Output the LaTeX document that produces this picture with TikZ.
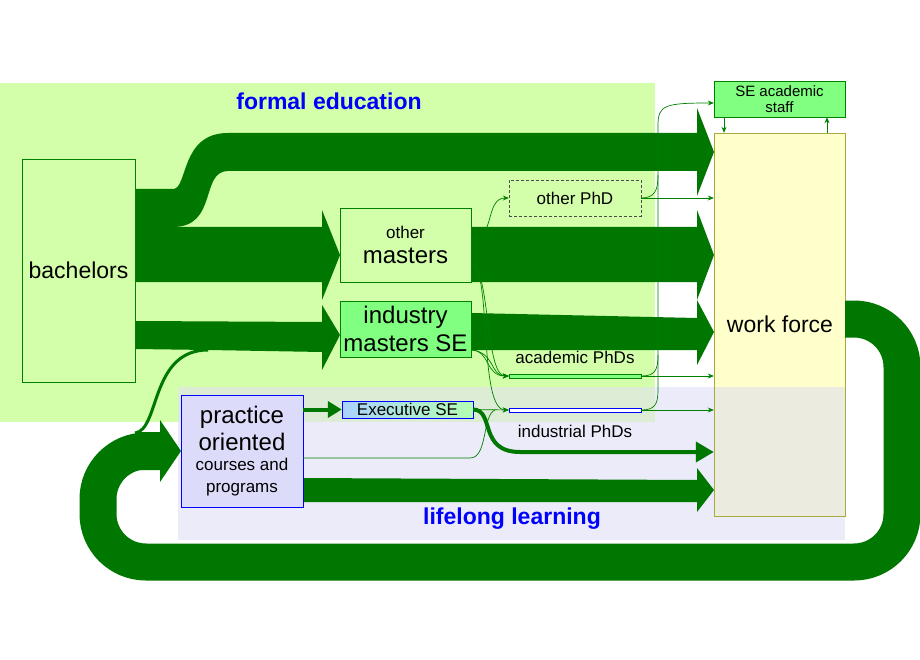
\documentclass[tikz,border=0pt]{standalone}
\usepackage{fontspec}
\setmainfont{Liberation Sans}
\usetikzlibrary{arrows.meta}
\definecolor{flow}{RGB}{0,119,0}
\definecolor{edge}{RGB}{0,128,0}
\definecolor{formal}{RGB}{212,255,170}
\definecolor{lifelong}{RGB}{235,235,250}
\definecolor{overlap}{RGB}{221,236,212}
\definecolor{wfyellow}{RGB}{255,255,204}
\definecolor{wfgrey}{RGB}{235,235,224}
\definecolor{bright}{RGB}{128,255,128}
\definecolor{practice}{RGB}{220,220,250}
\definecolor{execblue}{RGB}{170,210,255}
\newcommand{\fs}[1]{\fontsize{#1}{#1}\selectfont}
\begin{document}
\begin{tikzpicture}[x=1pt,y=-1pt]

\tikzset{box/.style = {draw=edge,fill=formal,inner sep=0pt,align=center}}
\tikzset{flow/.style = {fill=flow}}
\tikzset{thin/.style = {draw=edge,line width=0.7,-{Stealth[length=6,width=5]}}}
\useasboundingbox (0,0) rectangle (920,660);
%regions
\fill[formal] (0,83) rectangle (655,422);
\fill[lifelong] (178,387) rectangle (845,540);
\fill[overlap] (178,387) rectangle (655,422);
\node[text=blue,font=\fs{23}\bfseries] (formaltitle) at (329,101) {formal education};
\node[text=blue,font=\fs{23}\bfseries] (lifetitle) at (512,519) {lifelong learning};
%work force
\fill[wfyellow] (714,133) rectangle (845,387);
\fill[wfgrey] (714,387) rectangle (845,516);
\node[draw={rgb,255:red,170;green,170;blue,60},minimum width=131,minimum height=383,inner sep=0pt] (work) at (779.5,324.5) {};
\node[font=\fs{23}] (worktext) at (780,324) {work force};
%big flows
\fill[flow] (135,189) -- (173,189) .. controls (188,189) and (180,133) .. (228,133)
  -- (697,133) -- (697,108) -- (714,152) -- (697,196) -- (697,171) -- (228,171)
  .. controls (200,171) and (218,227) .. (173,227) -- (135,227) -- cycle;
\fill[flow] (135,227) -- (322,227) -- (322,210) -- (340,255) -- (322,300) -- (322,282) -- (135,282) -- cycle;
\fill[flow] (471,227) -- (697,227) -- (697,210) -- (714,255) -- (697,300) -- (697,282) -- (471,282) -- cycle;
\fill[flow] (135,321) -- (322,322) -- (322,305) -- (340,335) -- (322,370) -- (322,352) -- (208,350) -- (135,349) -- cycle;
\fill[flow] (471,313) -- (697,318) -- (697,300) -- (714,332) -- (697,365) -- (697,350) -- (471,350) -- cycle;
\fill[flow] (303,478) -- (697,480) -- (697,468) -- (714,490) -- (697,512) -- (697,502) -- (303,502) -- cycle;
\draw[draw=flow,line width=37,rounded corners=48] (845,319) -- (902,319) -- (902,562) -- (98,562) -- (98,451) -- (140,451);
\fill[flow] (135,432) -- (160,432) -- (160,420) -- (181,451) -- (160,482) -- (160,470) -- (135,470) -- cycle;
\draw[draw=flow,line width=3] (208,350) .. controls (150,350) and (160,430) .. (135,433);
%nodes
\node[box,minimum width=113,minimum height=223,font=\fs{23}] (bachelors) at (78.5,270.5) {bachelors};
\node[box,fill=bright,minimum width=131,minimum height=36,font=\fs{15}] (staff) at (779.5,99) {SE academic\\[1pt]staff};
\node[box,densely dashed,draw=black!70,minimum width=132,minimum height=36,font=\fs{17}] (otherphd) at (575,198) {other PhD};
\node[box,minimum width=131,minimum height=74] (othermasters) at (405.5,245) {{\fs{17}other}\\[8pt]{\fs{24}masters}};
\node[box,fill=bright,minimum width=131,minimum height=56,font=\fs{24}] (indmasters) at (405.5,329) {industry\\[4pt]masters SE};
\node[box,fill=bright,minimum width=132,minimum height=4] (acphd) at (575,376) {};
\node[font=\fs{17}] (acphdtext) at (575,357) {academic PhDs};
\node[box,draw=blue,fill=white,minimum width=132,minimum height=4] (indphd) at (575,410) {};
\node[font=\fs{17}] (indphdtext) at (575,431) {industrial PhDs};
\node[draw=blue,left color=execblue,right color=bright!60,minimum width=131,minimum height=17,inner sep=0pt,font=\fs{17}] (exec) at (407.5,409.5) {Executive SE};
\node[draw=blue,fill=practice,minimum width=122,minimum height=112,inner sep=0pt,align=center] (practice) at (242,451)
  {{\fs{24}practice}\\[4pt]{\fs{24}oriented}\\[6pt]{\fs{17}courses and}\\[10pt]{\fs{17}programs}};
%thick edges
\draw[draw=flow,line width=4,-{Triangle[length=14,width=16]}] (practice.east |- exec) -- (exec.west);
\draw[draw=flow,line width=4,-{Triangle[length=18,width=20]}] (exec.east) .. controls (495,410) and (478,452) .. (520,452) -- (work.west |- 0,452);
%thin edges
\draw[thin] (othermasters.east |- 0,240) .. controls (495,240) and (485,198) .. (otherphd.west);
\draw[thin] (othermasters.east |- 0,265) .. controls (490,265) and (485,376) .. (acphd.west);
\draw[thin] (othermasters.east |- 0,265) .. controls (492,265) and (478,410) .. (indphd.west);
\draw[thin] (indmasters.east |- 0,350) .. controls (490,350) and (485,376) .. (acphd.west);
\draw[thin] (indmasters.east |- 0,350) .. controls (495,352) and (490,376) .. (acphd.west);
\draw[thin] (exec.east) -- (indphd.west);
\draw[draw=edge,line width=0.7] (practice.east |- 0,458) -- (470,458) .. controls (488,458) and (482,415) .. (495,410);
\draw[thin] (otherphd.east) -- (work.west |- otherphd);
\draw[thin] (acphd.east) -- (work.west |- acphd);
\draw[thin] (indphd.east) -- (work.west |- indphd);
\draw[thin] (otherphd.east) .. controls (655,198) and (658,190) .. (658,175) -- (658,125) .. controls (658,105) and (665,103) .. (staff.west |- 0,103);
\draw[draw=edge,line width=0.7] (acphd.east) .. controls (655,376) and (658,370) .. (658,355) -- (658,175);
\draw[draw=edge,line width=0.7] (indphd.east) .. controls (655,410) and (658,404) .. (658,390) -- (658,355);
\draw[thin] (staff.south -| 724,0) -- (work.north -| 724,0);
\draw[thin] (work.north -| 827,0) -- (staff.south -| 827,0);

\end{tikzpicture}
\end{document}
